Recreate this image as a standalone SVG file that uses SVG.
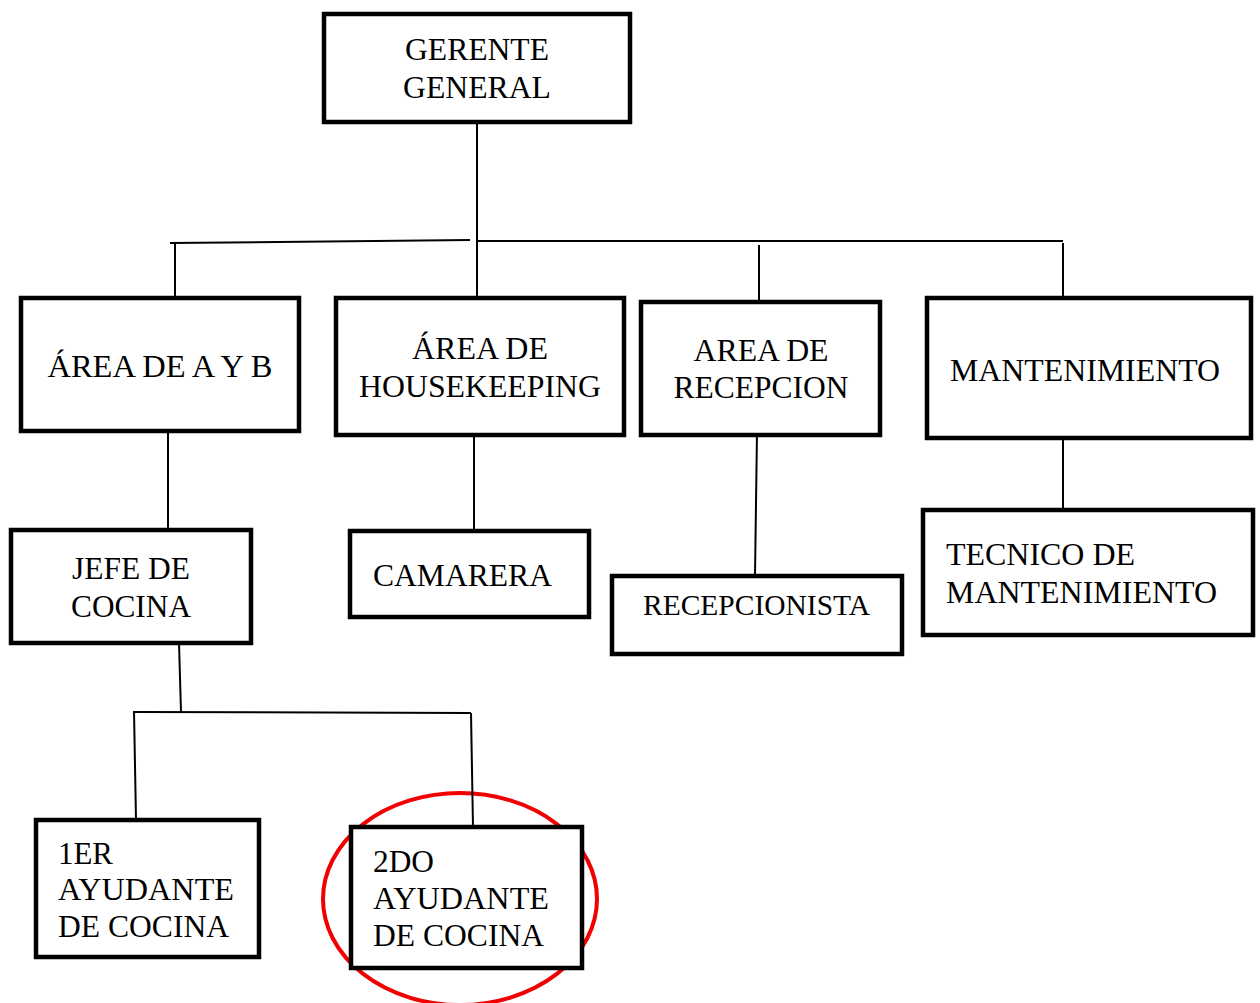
<svg xmlns="http://www.w3.org/2000/svg" width="1260" height="1003" viewBox="0 0 1260 1003">
<style>
.box{fill:#fff;stroke:#000;stroke-width:4.5}
.t{font-family:"Liberation Serif","Times New Roman",serif;font-size:31.5px;fill:#000}
.c{text-anchor:middle}
.conn line{stroke:#000;stroke-width:2}
</style>
<rect width="1260" height="1003" fill="#fff"/>
<ellipse cx="460" cy="899" rx="137" ry="106" fill="none" stroke="#f00000" stroke-width="4"/>
<g id="connectors" class="conn">
<line x1="477" y1="122" x2="477" y2="298"/>
<line x1="170" y1="243" x2="470" y2="240"/>
<line x1="477" y1="241" x2="1063" y2="241"/>
<line x1="175" y1="243" x2="175" y2="298"/>
<line x1="759" y1="245" x2="759" y2="302"/>
<line x1="1063" y1="243" x2="1063" y2="298"/>
<line x1="168" y1="431" x2="168" y2="530"/>
<line x1="474" y1="435" x2="474" y2="531"/>
<line x1="757" y1="432" x2="755" y2="576"/>
<line x1="1063" y1="438" x2="1063" y2="510"/>
<line x1="179" y1="643" x2="181" y2="712"/>
<line x1="134" y1="712" x2="471" y2="713"/>
<line x1="134" y1="711" x2="136" y2="820"/>
<line x1="471" y1="713" x2="473" y2="827"/>
</g>
<g id="gerente"><rect class="box" x="324" y="14" width="306" height="108"/>
<text class="t c" x="477" y="60" textLength="144" lengthAdjust="spacingAndGlyphs">GERENTE</text><text class="t c" x="477" y="98" textLength="148" lengthAdjust="spacingAndGlyphs">GENERAL</text></g>
<g id="ayb"><rect class="box" x="21" y="298" width="278" height="133"/>
<text class="t c" x="160" y="377" textLength="225" lengthAdjust="spacingAndGlyphs">ÁREA DE A Y B</text></g>
<g id="housekeeping"><rect class="box" x="336" y="298" width="288" height="137"/>
<text class="t c" x="480" y="359" textLength="136" lengthAdjust="spacingAndGlyphs">ÁREA DE</text><text class="t c" x="480" y="397" textLength="242" lengthAdjust="spacingAndGlyphs">HOUSEKEEPING</text></g>
<g id="recepcion"><rect class="box" x="641" y="302" width="239" height="133"/>
<text class="t c" x="761" y="361" textLength="135" lengthAdjust="spacingAndGlyphs">AREA DE</text><text class="t c" x="761" y="398" textLength="175" lengthAdjust="spacingAndGlyphs">RECEPCION</text></g>
<g id="mantenimiento"><rect class="box" x="927" y="298" width="324" height="140"/>
<text class="t c" x="1085" y="381" textLength="270" lengthAdjust="spacingAndGlyphs">MANTENIMIENTO</text></g>
<g id="jefe"><rect class="box" x="11" y="530" width="240" height="113"/>
<text class="t c" x="131" y="579" textLength="118" lengthAdjust="spacingAndGlyphs">JEFE DE</text><text class="t c" x="131" y="617" textLength="120" lengthAdjust="spacingAndGlyphs">COCINA</text></g>
<g id="camarera"><rect class="box" x="350" y="531" width="239" height="86"/>
<text class="t" x="373" y="586" textLength="179" lengthAdjust="spacingAndGlyphs">CAMARERA</text></g>
<g id="recepcionista"><rect class="box" x="612" y="576" width="290" height="78"/>
<text class="t" x="643" y="615" style="font-size:29px" textLength="227" lengthAdjust="spacingAndGlyphs">RECEPCIONISTA</text></g>
<g id="tecnico"><rect class="box" x="923" y="510" width="330" height="125"/>
<text class="t" x="946" y="565" textLength="189" lengthAdjust="spacingAndGlyphs">TECNICO DE</text><text class="t" x="946" y="603" textLength="271" lengthAdjust="spacingAndGlyphs">MANTENIMIENTO</text></g>
<g id="ayudante1"><rect class="box" x="36" y="820" width="223" height="137"/>
<text class="t" x="58" y="864" textLength="55" lengthAdjust="spacingAndGlyphs">1ER</text><text class="t" x="58" y="900" textLength="176" lengthAdjust="spacingAndGlyphs">AYUDANTE</text><text class="t" x="58" y="937" textLength="171" lengthAdjust="spacingAndGlyphs">DE COCINA</text></g>
<g id="ayudante2"><rect class="box" x="351" y="827" width="231" height="141"/>
<text class="t" x="373" y="872" textLength="61" lengthAdjust="spacingAndGlyphs">2DO</text><text class="t" x="373" y="909" textLength="176" lengthAdjust="spacingAndGlyphs">AYUDANTE</text><text class="t" x="373" y="946" textLength="171" lengthAdjust="spacingAndGlyphs">DE COCINA</text></g>
</svg>
